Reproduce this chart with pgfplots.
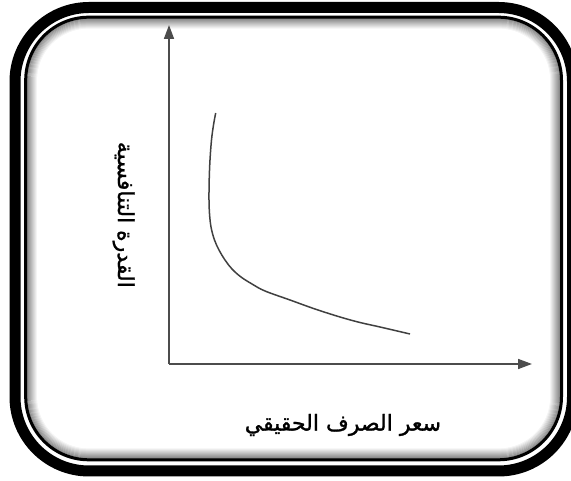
\documentclass[border=0pt]{standalone}
\usepackage{fontspec}
\usepackage{pgfplots}
\pgfplotsset{compat=1.18}
\usetikzlibrary{arrows.meta}
\newfontfamily\arabicfont[Script=Arabic,FakeBold=1.2]{DejaVu Sans}
\TeXXeTstate=1
\begin{document}
\begin{tikzpicture}[x=1pt,y=1pt]
\path[use as bounding box] (0,0) rectangle (571,481);
\clip (0,0) rectangle (571,481);
% frame
\draw[line width=11pt, black, rounded corners=74pt] (15,10) rectangle (572.5,473.5);
\foreach \i in {1,...,12}{
  \pgfmathsetmacro{\g}{max(0,55-4.6*\i)}
  \draw[line width=1.2pt, black!\g, rounded corners={63pt-\i pt}] ({25.7+\i},{21.2+\i}) rectangle ({561.5-\i},{463.8-\i});
}
\draw[line width=3pt, black, rounded corners=63pt] (25.7,21.2) rectangle (561.5,463.8);
\begin{axis}[
  at={(169pt,117pt)}, anchor=south west,
  scale only axis, width=363pt, height=339pt,
  xmin=0, xmax=363, ymin=0, ymax=339,
  axis lines=left,
  xtick=\empty, ytick=\empty,
  x axis line style={line width=1.6pt, black!70, -{Triangle[length=14pt,width=10pt]}},
  y axis line style={line width=1.6pt, black!70, -{Triangle[length=14pt,width=10pt]}},
  xlabel={\fontsize{22}{26}\selectfont\arabicfont\beginR سعر الصرف الحقيقي\endR},
  xlabel style={at={(axis description cs:0.479,-0.18)}, anchor=center},
  ylabel={\fontsize{22}{26}\selectfont\arabicfont\beginR القدرة التنافسية\endR},
  ylabel style={at={(axis description cs:-0.125,0.44)}, anchor=center, rotate=180},
  clip=false,
]
\addplot[smooth, tension=0.6, line width=1.5pt, black!75] coordinates {
(46.7,251) (44.5,239) (42.5,224) (41,204) (40.2,184) (40,164) (40.6,149)
(42.2,136) (45.5,124) (50,114) (56,104) (63,95) (72,87) (83,80) (96,73) (121,64)
(146,55) (171,47) (191,41.5) (211,37) (241,30)
};
\end{axis}
\end{tikzpicture}
\end{document}
